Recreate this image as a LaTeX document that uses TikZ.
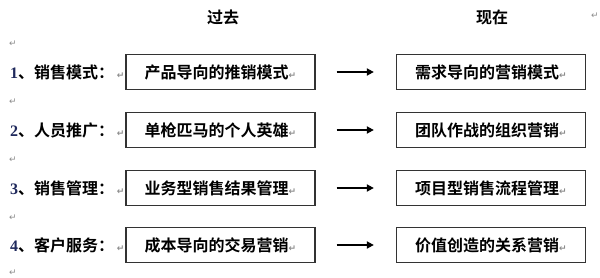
\documentclass[tikz,border=0pt]{standalone}
\usepackage{fontspec}
\newfontfamily\cjk{Noto Sans CJK SC}[BoldFont={Noto Sans CJK SC Bold}]
\newfontfamily\numfont{Liberation Serif}
\newfontfamily\sym{DejaVu Sans}
\usetikzlibrary{arrows.meta}
\definecolor{numc}{rgb}{0.12,0.16,0.36}
\definecolor{markc}{rgb}{0.55,0.55,0.55}
\newcommand{\rmk}{{\sym\fontsize{9}{9}\selectfont\color{markc}↵}}
\begin{document}
\begin{tikzpicture}[x=1pt,y=-1pt,
  txt/.style={font=\cjk\bfseries\fontsize{16}{18}\selectfont, inner sep=0pt},
  boxl/.style={draw=black!80, line width=1.3pt, minimum width=189pt, minimum height=35pt, inner sep=0pt, font=\cjk\bfseries\fontsize{16}{18}\selectfont},
  arr/.style={line width=1.8pt, -{Triangle[length=7pt,width=7pt]}},
  mk/.style={inner sep=0pt}]
\useasboundingbox (0,0) rectangle (600,278);
\fill[white] (0,0) rectangle (600,278);
\node[txt] (h1) at (223,17) {过去};
\node[txt] (h2) at (492,17) {现在};
\node[mk] (m0) at (595,16) {\rmk};
\node[mk] (m1) at (13,44) {\rmk};
\node[mk] (m2) at (13,102) {\rmk};
\node[mk] (m3) at (13,160) {\rmk};
\node[mk] (m4) at (13,218) {\rmk};
\node[mk] (m5) at (13,273) {\rmk};
% rows
\foreach \i/\y/\lab/\a/\b in {
 1/72/销售模式：/产品导向的推销模式/需求导向的营销模式,
 2/130/人员推广：/单枪匹马的个人英雄/团队作战的组织营销,
 3/188/销售管理：/业务型销售结果管理/项目型销售流程管理,
 4/245/客户服务：/成本导向的交易营销/价值创造的关系营销}{
 \node[txt, anchor=west] (l\i) at (10,\y) {{\numfont\bfseries\color{numc}\i}、\lab\,\rmk};
 \node[boxl] (a\i) at (220.5,\y) {\a\rmk};
 \node[boxl] (b\i) at (491,\y) {\b\rmk};
 \draw[arr] ([xshift=21pt]a\i.east) -- ([xshift=-22pt]b\i.west);
}
\end{tikzpicture}
\end{document}
